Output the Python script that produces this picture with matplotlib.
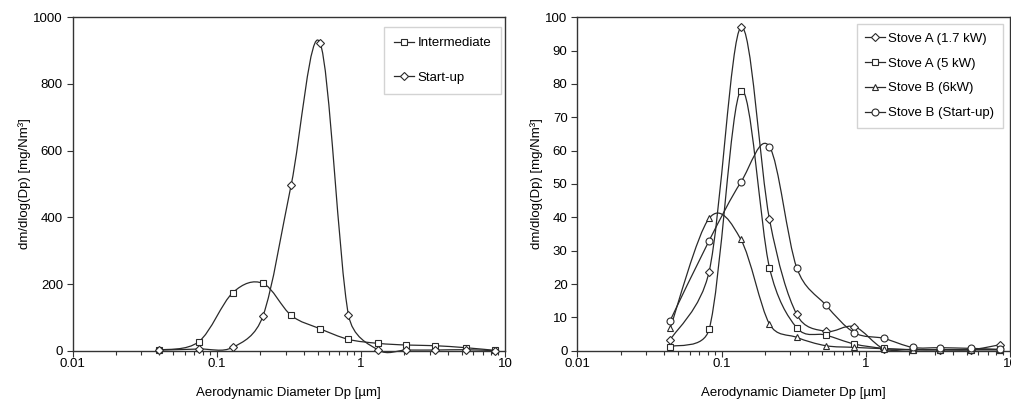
import numpy as np
import matplotlib
matplotlib.use("Agg")
import matplotlib.pyplot as plt
from matplotlib.path import Path
from matplotlib.patches import PathPatch
from matplotlib.lines import Line2D

plt.rcParams['font.family'] = ['Liberation Sans', 'DejaVu Sans']

# ---------------- data ----------------
dp_left = [0.040, 0.075, 0.129, 0.209, 0.328, 0.52, 0.82, 1.32, 2.07, 3.27, 5.33, 8.5]
intermediate = [2, 27, 174, 202, 106, 66, 34, 22, 17, 15, 9, 1]
startup = [2, 5, 10, 104, 497, 924, 107, 2, 2, 2, 3, 0]

dp_right = [0.044, 0.082, 0.136, 0.215, 0.332, 0.528, 0.834, 1.33, 2.11, 3.28, 5.35, 8.55]
stoveA_17 = [3.2, 23.7, 97.0, 39.4, 10.9, 5.8, 7.2, 0.6, 0.4, 0.3, 0.3, 1.8]
stoveA_5 = [1.2, 6.4, 78.0, 24.9, 6.9, 4.7, 2.0, 0.7, 0.3, 0.3, 0.3, 0.3]
stoveB_6 = [6.7, 39.7, 33.4, 8.0, 4.0, 1.5, 1.0, 0.6, 0.3, 0.3, 0.3, 0.3]
stoveB_su = [9.0, 33.0, 50.5, 61.2, 24.9, 13.7, 5.4, 3.7, 1.0, 0.9, 0.7, 0.4]

left_labels = ['Intermediate', 'Start-up']
right_labels = ['Stove A (1.7 kW)', 'Stove A (5 kW)', 'Stove B (6kW)', 'Stove B (Start-up)']

xlabel = 'Aerodynamic Diameter Dp [µm]'
ylabel = 'dm/dlog(Dp) [mg/Nm³]'

LC = '#2a2a2a'
FS = 9.5


def smooth_path(ax, x, y):
    """Excel-like smoothed line: cubic Bezier segments, tangent arms 1/6 of the
    neighbour chord, capped at half the segment length (display space)."""
    P = ax.transData.transform(np.column_stack([x, y]))
    n = len(P)
    verts = [P[0]]
    codes = [Path.MOVETO]
    for i in range(n - 1):
        p0 = P[i - 1] if i > 0 else P[i]
        p1 = P[i]
        p2 = P[i + 1]
        p3 = P[i + 2] if i + 2 < n else P[i + 1]
        d12 = np.hypot(*(p2 - p1))
        a = p2 - p0
        b = p3 - p1
        la = np.hypot(*a)
        lb = np.hypot(*b)
        f = 1 / 6.0
        g = 1 / 6.0
        if la / 6.0 > d12 / 2.0 and la > 0:
            f = d12 / (2.0 * la)
        if lb / 6.0 > d12 / 2.0 and lb > 0:
            g = d12 / (2.0 * lb)
        c1 = p1 + a * f
        c2 = p2 - b * g
        verts += [c1, c2, p2]
        codes += [Path.CURVE4] * 3
    V = ax.transData.inverted().transform(np.array(verts))
    return Path(V, codes)


def draw_series(ax, x, y, marker, ms):
    patch = PathPatch(smooth_path(ax, x, y), fill=False, edgecolor=LC, lw=0.9,
                      transform=ax.transData, clip_on=False, zorder=2)
    ax.add_patch(patch)
    ax.plot(x, y, linestyle='none', marker=marker, ms=ms, mfc='white',
            mec=LC, mew=0.8, zorder=3, clip_on=False)


def style_axes(ax, ymax, ystep):
    ax.set_xscale('log')
    ax.set_xlim(0.01, 10)
    ax.set_ylim(0, ymax)
    ax.set_yticks(np.arange(0, ymax + ystep / 2, ystep))
    ax.set_xticks([0.01, 0.1, 1, 10])
    ax.set_xticklabels(['0.01', '0.1', '1', '10'])
    for s in ax.spines.values():
        s.set_color('#333333')
        s.set_linewidth(1.0)
    ax.tick_params(axis='both', which='both', direction='out', colors='#333333',
                   labelcolor='black', labelsize=FS, width=0.8)
    ax.tick_params(axis='y', length=4, pad=3)
    ax.tick_params(axis='x', which='major', length=4, pad=1.5)
    ax.tick_params(axis='x', which='minor', length=3)
    ax.set_xlabel(xlabel, fontsize=FS, labelpad=12)
    ax.set_ylabel(ylabel, fontsize=FS, labelpad=2)


fig = plt.figure(figsize=(10.12, 4.0), dpi=100)
W, H = 1012.0, 400.0
axL = fig.add_axes([72.7 / W, 1 - 350.7 / H, (505 - 72.7) / W, (350.7 - 17.3) / H])
axR = fig.add_axes([577.3 / W, 1 - 350.7 / H, (1010 - 577.3) / W, (350.7 - 17.3) / H])

style_axes(axL, 1000, 200)
style_axes(axR, 100, 10)

draw_series(axL, dp_left, intermediate, 's', 5)
draw_series(axL, dp_left, startup, 'D', 3.6)

draw_series(axR, dp_right, stoveA_17, 'D', 3.6)
draw_series(axR, dp_right, stoveA_5, 's', 5)
draw_series(axR, dp_right, stoveB_6, '^', 5)
draw_series(axR, dp_right, stoveB_su, 'o', 5)


def handle(marker, ms):
    return Line2D([], [], color=LC, lw=0.9, marker=marker, ms=ms, mfc='white',
                  mec=LC, mew=0.8)

legL = axL.legend([handle('s', 5), handle('D', 3.6)], left_labels,
                  loc='upper right', bbox_to_anchor=(501 / W, 1 - 27 / H),
                  bbox_transform=fig.transFigure, fontsize=FS, frameon=True,
                  fancybox=False, labelspacing=1.7, handlelength=1.5,
                  handletextpad=0.25, borderpad=0.75, borderaxespad=0)
legL.get_frame().set_edgecolor('#c8c8c8')
legL.get_frame().set_linewidth(1.0)

legR = axR.legend([handle('D', 3.6), handle('s', 5), handle('^', 5), handle('o', 5)],
                  right_labels, loc='upper right',
                  bbox_to_anchor=(1003 / W, 1 - 24 / H),
                  bbox_transform=fig.transFigure, fontsize=FS, frameon=True,
                  fancybox=False, labelspacing=0.95, handlelength=1.5,
                  handletextpad=0.25, borderpad=0.65, borderaxespad=0)
legR.get_frame().set_edgecolor('#c8c8c8')
legR.get_frame().set_linewidth(1.0)

fig.savefig('out.png', dpi=100)
